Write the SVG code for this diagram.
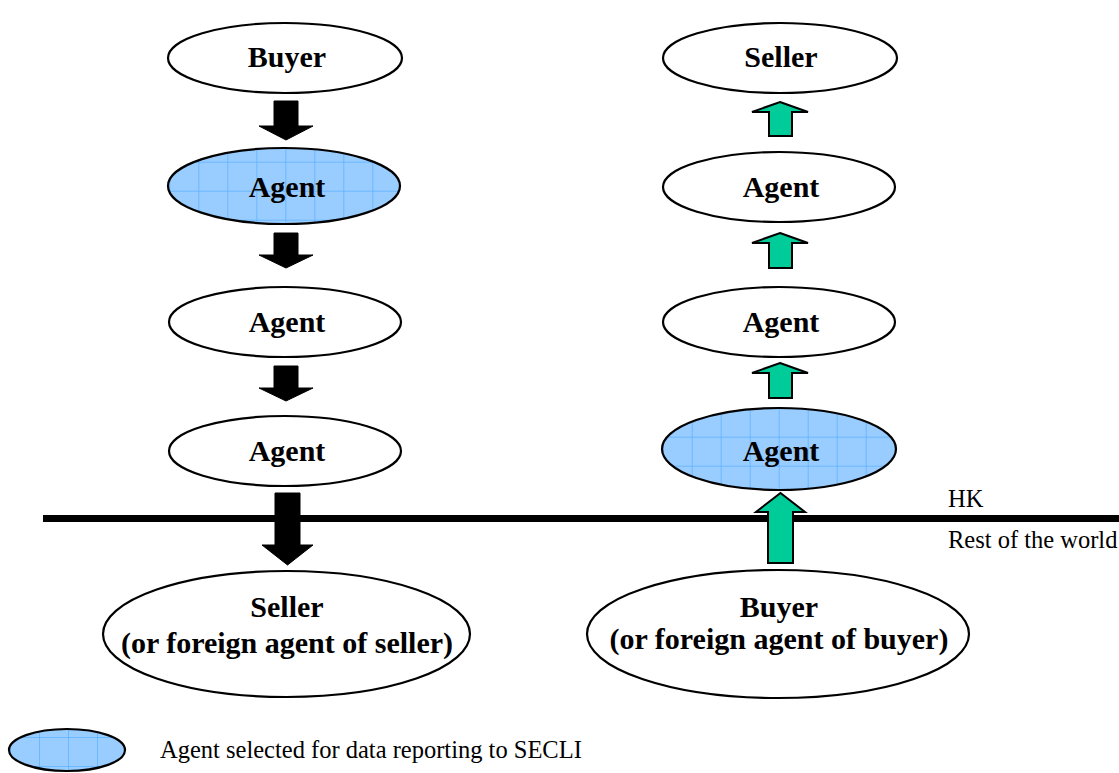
<svg xmlns="http://www.w3.org/2000/svg" width="1119" height="773" viewBox="0 0 1119 773">
  <style>
    .node { fill: #ffffff; stroke: #000000; stroke-width: 2.2; }
    .sel { stroke: #000000; stroke-width: 2.2; }
    .lbl { font-family: "Liberation Serif", "Times New Roman", serif; font-weight: bold; font-size: 30px; fill: #000000; text-anchor: middle; }
    .note { font-family: "Liberation Serif", "Times New Roman", serif; font-size: 24.5px; fill: #000000; }
    .down { fill: #000000; stroke: #000000; stroke-width: 1; }
    .up { fill: #00CC99; stroke: #000000; stroke-width: 2; stroke-linejoin: miter; }
    .grid { stroke: #4AA8FF; stroke-width: 0.8; stroke-opacity: 0.7; fill: none; }
  </style>
  <defs>
    <pattern id="gridL" patternUnits="userSpaceOnUse" x="24.3" y="16.7" width="29" height="29">
      <rect width="29" height="29" fill="#99CCFF"/>
      <path class="grid" d="M0.5 0 V29 M0 0.5 H29"/>
    </pattern>
    <pattern id="gridR" patternUnits="userSpaceOnUse" x="24.7" y="1.7" width="29" height="29">
      <rect width="29" height="29" fill="#99CCFF"/>
      <path class="grid" d="M0.5 0 V29 M0 0.5 H29"/>
    </pattern>
    <pattern id="gridK" patternUnits="userSpaceOnUse" x="10" y="12" width="29" height="29">
      <rect width="29" height="29" fill="#99CCFF"/>
      <path class="grid" d="M0.5 0 V29 M0 0.5 H29"/>
    </pattern>
  </defs>

  <g id="boundary">
    <line x1="43" y1="518.5" x2="1119" y2="518.5" stroke="#000000" stroke-width="7"/>
    <text class="note" x="948" y="507">HK</text>
    <text class="note" x="948" y="548">Rest of the world</text>
  </g>

  <g id="connectors">
    <!-- left column: black down arrows -->
    <path class="down" d="M274 101 H298 V126 H313 L286 140 L259 126 H274 Z"/>
    <path class="down" d="M274 233 H298 V255 H313 L286 268 L259 255 H274 Z"/>
    <path class="down" d="M274 366 H298 V388 H313 L286 401 L259 388 H274 Z"/>
    <path class="down" d="M275 493 H300 V545 H313 L287.5 565 L262 545 H275 Z"/>
    <!-- right column: green up arrows -->
    <path class="up" d="M780 102 L808 112 H792 V136 H769 V112 H752 Z"/>
    <path class="up" d="M780 233 L808 243 H792 V268 H769 V243 H752 Z"/>
    <path class="up" d="M780 363 L808 373 H792 V398 H769 V373 H752 Z"/>
    <path class="up" d="M780.5 493 L805 512 H793 V563 H768 V512 H756 Z"/>
  </g>

  <g id="l-buyer">
    <ellipse class="node" cx="285" cy="58" rx="117" ry="35"/>
    <text class="lbl" x="287" y="67">Buyer</text>
  </g>
  <g id="l-agent1">
    <ellipse class="sel" fill="url(#gridL)" cx="284" cy="186" rx="116" ry="38"/>
    <text class="lbl" x="287" y="197">Agent</text>
  </g>
  <g id="l-agent2">
    <ellipse class="node" cx="285" cy="322" rx="116" ry="35"/>
    <text class="lbl" x="287" y="332">Agent</text>
  </g>
  <g id="l-agent3">
    <ellipse class="node" cx="285" cy="451" rx="116" ry="35"/>
    <text class="lbl" x="287" y="461">Agent</text>
  </g>
  <g id="l-seller">
    <ellipse class="node" cx="286.5" cy="634" rx="183.5" ry="63"/>
    <text class="lbl" x="287" y="617">Seller</text>
    <text class="lbl" x="287" y="653">(or foreign agent of seller)</text>
  </g>

  <g id="r-seller">
    <ellipse class="node" cx="780" cy="58" rx="117" ry="35"/>
    <text class="lbl" x="781" y="67">Seller</text>
  </g>
  <g id="r-agent1">
    <ellipse class="node" cx="779" cy="187" rx="116" ry="35"/>
    <text class="lbl" x="781" y="197">Agent</text>
  </g>
  <g id="r-agent2">
    <ellipse class="node" cx="779" cy="322" rx="116" ry="35"/>
    <text class="lbl" x="781" y="332">Agent</text>
  </g>
  <g id="r-agent3">
    <ellipse class="sel" fill="url(#gridR)" cx="779" cy="449" rx="117" ry="41"/>
    <text class="lbl" x="781" y="461">Agent</text>
  </g>
  <g id="r-buyer">
    <ellipse class="node" cx="778" cy="634" rx="191" ry="64"/>
    <text class="lbl" x="779" y="617">Buyer</text>
    <text class="lbl" x="779" y="649">(or foreign agent of buyer)</text>
  </g>

  <g id="legend">
    <ellipse class="sel" fill="url(#gridK)" cx="67" cy="750" rx="58" ry="21"/>
    <text class="note" x="160" y="758">Agent selected for data reporting to SECLI</text>
  </g>
</svg>
